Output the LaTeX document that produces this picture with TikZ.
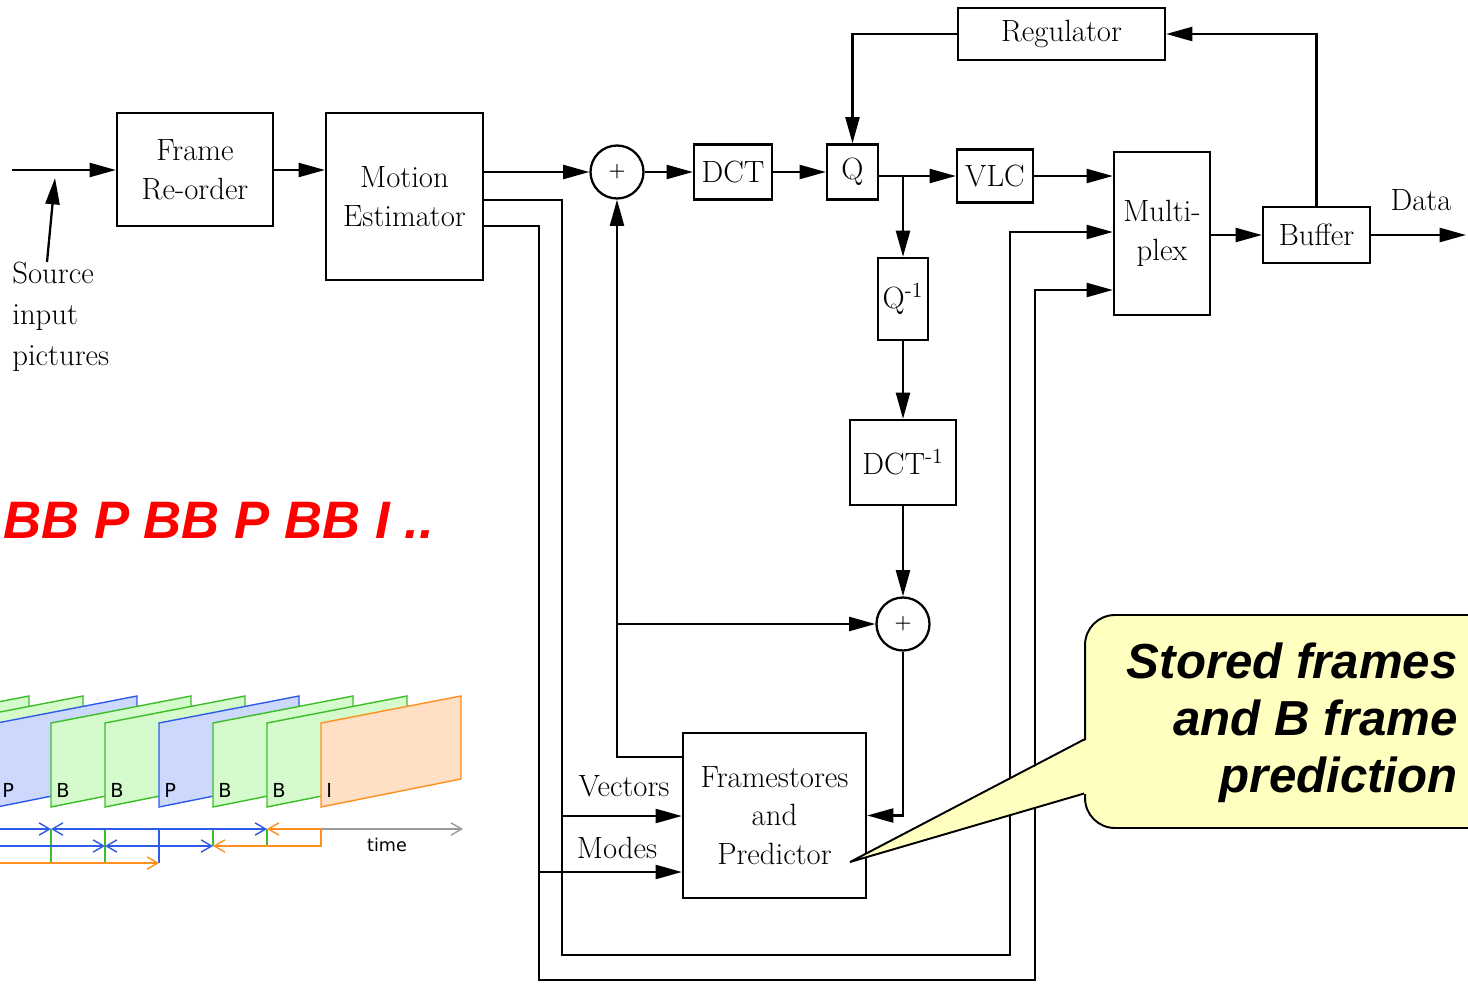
\documentclass[tikz,border=0pt]{standalone}
\usepackage{fontspec}
\newfontfamily\arialfont{Liberation Sans}
\newfontfamily\dejavufont{DejaVu Sans}
\usepackage{tikz}
\usetikzlibrary{arrows.meta, positioning, calc}
\definecolor{calloutfill}{HTML}{FFFFC0}
\definecolor{seqred}{HTML}{FF0000}
\definecolor{bframe}{HTML}{3CBE28}
\definecolor{bfill}{HTML}{D5FBCC}
\definecolor{pframe}{HTML}{2E5CE8}
\definecolor{pfill}{HTML}{CCD9FD}
\definecolor{iframe}{HTML}{FF8F1F}
\definecolor{ifill}{HTML}{FFE0C4}
\definecolor{timegray}{HTML}{9A9A9A}

\begin{document}
\begin{tikzpicture}[
  x=0.02cm, y=-0.02cm,
  font=\fontsize{17.5}{22}\selectfont,
  blk/.style={draw, line width=1.3pt, inner sep=1pt, align=center},
  sum/.style={draw, circle, line width=1.3pt, minimum size=1.06cm,
              inner sep=0pt, font=\fontsize{11}{12}\selectfont\bfseries},
  arr/.style={-{Triangle[length=15pt,width=8pt]}, line width=1.3pt},
  frameB/.style={draw=bframe, fill=bfill, line width=0.8pt},
  frameP/.style={draw=pframe, fill=pfill, line width=0.8pt},
  frameI/.style={draw=iframe, fill=ifill, line width=0.8pt},
  flbl/.style={anchor=base west, inner sep=0pt, font=\dejavufont\fontsize{11}{12}\selectfont},
  tl/.style={line width=0.8pt},
  tlarr/.style={-{Straight Barb[length=6pt,width=7pt]}, line width=0.8pt}
]
\useasboundingbox (0,0) rectangle (1468,984);
\clip (0,0) rectangle (1468,984);
\fill[white] (0,0) rectangle (1468,984);

% encoder blocks
\node[blk, minimum width=3.12cm, minimum height=2.26cm] (reorder) at (195,169.5) {Frame\\Re-order};
\node[blk, minimum width=3.14cm, minimum height=3.34cm] (motion) at (404.5,196.5) {Motion\\Estimator};
\node[sum] (add1) at (617,172) {+};
\node[blk, minimum width=1.56cm, minimum height=1.10cm] (dct) at (733,172) {DCT};
\node[blk, minimum width=1.02cm, minimum height=1.10cm] (quant) at (852.5,172) {Q};
\node[blk, minimum width=1.52cm, minimum height=1.06cm] (vlc) at (995,176) {VLC};
\node[blk, minimum width=1.00cm, minimum height=1.64cm] (iquant) at (903,299) {Q\textsuperscript{-1}};
\node[blk, minimum width=2.12cm, minimum height=1.70cm] (idct) at (903,462.5) {DCT\textsuperscript{-1}};
\node[sum] (add2) at (903,624) {+};
\node[blk, minimum width=3.66cm, minimum height=3.30cm] (store) at (774.5,815.5) {Framestores\\and\\Predictor};
\node[blk, minimum width=1.92cm, minimum height=3.26cm] (mux) at (1162,233.5) {Multi-\\plex};
\node[blk, minimum width=2.14cm, minimum height=1.12cm] (buffer) at (1316.5,235) {Buffer};
\node[blk, minimum width=4.14cm, minimum height=1.04cm] (regul) at (1061.5,34) {Regulator};

\node[anchor=north west, align=left, inner sep=0pt, font=\fontsize{17.5}{23.3}\selectfont] (src) at (12,262) {Source\\input\\pictures};
\node (data) at (1421,200) {Data};
\node (veclbl) at (624,786) {Vectors};
\node (modlbl) at (617,848) {Modes};

\coordinate (in) at (12,170);
\coordinate (srcfoot) at (47,262);
\coordinate (srchead) at (55,178);
\coordinate (qtap) at (903,176);
\coordinate (out) at (1466,235);
\coordinate (pred) at (617,757);
\coordinate (vecx) at (562,955);
\coordinate (vecy) at (1010,232);
\coordinate (modx) at (539,980);
\coordinate (mody) at (1035,290);

\draw[arr] (in) -- (in -| reorder.west);
\draw[arr] (srcfoot) -- (srchead);
\draw[arr] (reorder.east |- in) -- (in -| motion.west);
\draw[arr] (motion.east |- add1) -- (add1.west);
\draw[arr] (add1) -- (dct);
\draw[arr] (dct) -- (quant);
\draw[line width=1.3pt] (quant.east |- vlc) -- (qtap);
\draw[arr] (qtap) -- (vlc.west);
\draw[arr] (qtap) -- (iquant.north);
\draw[arr] (iquant) -- (idct);
\draw[arr] (idct) -- (add2);
\draw[arr] (vlc.east) -- (vlc.east -| mux.west);
\draw[arr] (mux.east |- buffer) -- (buffer.west);
\draw[arr] (buffer.east) -- (out);
\draw[arr] (buffer.north) |- (regul.east);
\draw[arr] (regul.west) -| (quant.north);
\draw[arr] (add2.south) |- (store.east);
\draw[arr] (store.west |- pred) -- (pred) -- (add1.south);
\draw[arr] (pred |- add2) -- (add2.west);
\draw[arr] (motion.east |- 0,200) -| (vecx) -| (vecy) -- (vecy -| mux.west);
\draw[arr] (motion.east |- 0,226) -| (modx) -| (mody) -- (mody -| mux.west);
\draw[arr] (vecx |- 0,816) -- (store.west |- 0,816);
\draw[arr] (modx |- 0,872) -- (store.west |- 0,872);

% frame sequence
\node[anchor=base west, inner sep=0pt, text=seqred,
      font=\arialfont\bfseries\itshape\fontsize{30}{32}\selectfont] (seq) at (3,538) {BB P BB P BB I ..};

\foreach \fx/\fs in {-111/frameB,-57/frameB,-3/frameP,51/frameB,105/frameB,159/frameP,213/frameB,267/frameB,321/frameI}
  \draw[\fs] (\fx,807) -- (\fx,723) -- (\fx+140,696) -- (\fx+140,779) -- cycle;
\foreach \fx/\fl in {-3/P,51/B,105/B,159/P,213/B,267/B,321/I}
  \node[flbl] (lbl\fx) at (\fx+5,797) {\fl};

\draw[tl, bframe] (51,829) -- (51,863);
\draw[tl, bframe] (105,829) -- (105,863);
\draw[tl, pframe] (159,829) -- (159,863);
\draw[tl, bframe] (213,829) -- (213,846);
\draw[tl, bframe] (267,829) -- (267,846);

\draw[tlarr, pframe] (-5,829) -- (51,829);
\draw[tlarr, pframe] (159,829) -- (51,829);
\draw[tlarr, pframe] (159,829) -- (267,829);
\draw[tlarr, iframe] (321,829) -- (267,829);
\draw[tlarr, timegray] (321,829) -- (463,829);
\draw[tlarr, pframe] (-5,846) -- (105,846);
\draw[tlarr, pframe] (159,846) -- (105,846);
\draw[tlarr, pframe] (159,846) -- (213,846);
\draw[tlarr, iframe] (321,829) -- (321,846) -- (213,846);
\draw[tlarr, iframe] (-5,863) -- (159,863);
\node[font=\dejavufont\fontsize{10}{12}\selectfont] (time) at (387,845) {time};

% callout
\node[draw, fill=calloutfill, line width=1.1pt, rounded corners=17pt,
      minimum width=9cm, minimum height=4.26cm] (note) at (1310,721.5) {};
\node[anchor=east, inner sep=0pt, align=right,
      font=\arialfont\bfseries\itshape\fontsize{28}{32.3}\selectfont] (notetext) at (1458,723)
  {Stored frames\\and B frame\\prediction};
\coordinate (tip) at (850,862);
\fill[calloutfill] ($(note.west)+(3,18)$) -- (tip) -- ($(note.west)+(3,72)$) -- cycle;
\draw[line width=1.1pt] ($(note.west)+(0,18)$) -- (tip) -- ($(note.west)+(0,72)$);

\end{tikzpicture}
\end{document}
